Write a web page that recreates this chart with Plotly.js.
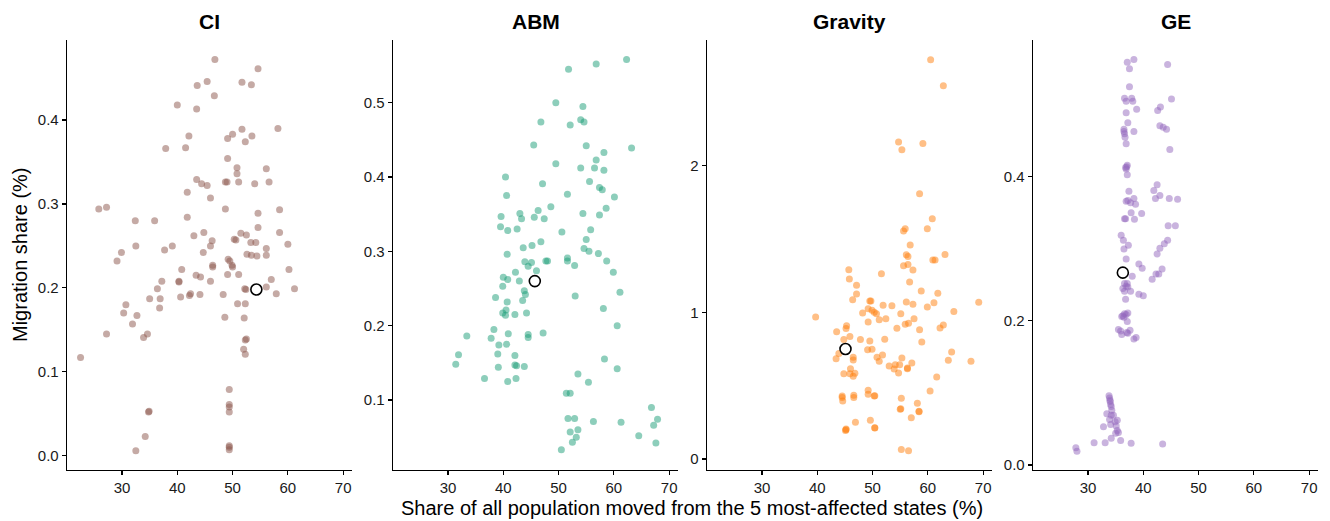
<!DOCTYPE html>
<html>
<head>
<meta charset="utf-8">
<script src="https://cdn.plot.ly/plotly-3.0.1.min.js"></script>
<style>html,body{margin:0;padding:0;background:#fff;}#chart{width:1330px;height:521px;}</style>
</head>
<body>
<div id="chart"></div>
<script>
// ---------- DATA ----------
const panelNames = ["CI", "ABM", "Gravity", "GE"];
const xTitle = "Share of all population moved from the 5 most-affected states (%)";
const yTitle = "Migration share (%)";

const ciX = [46.8,54.6,43.6,45.4,51.7,53.4,46.7,40.0,43.5,51.7,58.2,42.1,49.1,50.0,53.5,52.3,37.9,41.5,49.1,50.8,50.8,56.1,43.5,44.4,45.4,48.7,49.0,51.1,54.0,56.6,41.8,46.0,25.8,27.2,48.7,54.6,58.5,32.4,35.9,41.8,54.6,43.0,44.8,51.5,52.5,50.3,50.6,46.3,53.3,54.2,58.5,32.5,29.9,29.1,37.7,39.1,46.0,44.7,56.1,60.0,52.6,53.4,54.4,56.1,49.2,49.5,49.9,50.0,46.4,46.4,40.8,60.2,51.1,49.1,43.4,44.2,46.0,40.3,40.3,37.2,36.4,35.0,36.9,36.8,40.6,42.2,42.4,44.1,48.3,52.4,52.2,56.1,57.0,57.9,61.2,50.9,52.3,30.7,30.3,32.7,31.9,27.2,33.9,34.6,48.6,52.1,52.3,52.5,52.0,52.3,22.5,49.4,49.4,49.4,49.4,34.8,34.9,34.2,32.5,49.4,49.4,49.4];
const ciY = [0.472,0.461,0.441,0.446,0.445,0.442,0.429,0.418,0.413,0.389,0.390,0.381,0.378,0.383,0.381,0.374,0.366,0.367,0.354,0.343,0.336,0.342,0.329,0.324,0.322,0.326,0.326,0.326,0.324,0.326,0.314,0.307,0.294,0.296,0.294,0.289,0.293,0.280,0.280,0.284,0.272,0.262,0.266,0.265,0.263,0.258,0.257,0.256,0.254,0.254,0.266,0.250,0.242,0.232,0.245,0.250,0.250,0.242,0.247,0.252,0.240,0.239,0.238,0.239,0.234,0.232,0.227,0.225,0.225,0.227,0.222,0.222,0.216,0.216,0.215,0.213,0.208,0.207,0.208,0.208,0.199,0.187,0.187,0.176,0.189,0.191,0.193,0.192,0.192,0.198,0.199,0.201,0.210,0.193,0.199,0.181,0.181,0.180,0.170,0.167,0.157,0.145,0.141,0.145,0.165,0.164,0.138,0.139,0.127,0.121,0.117,0.079,0.061,0.058,0.052,0.052,0.053,0.023,0.006,0.012,0.010,0.007];

const abmX = [62.3,51.8,56.8,49.5,54.4,46.8,54.0,54.6,52.1,45.5,55.0,63.2,58.2,56.8,49.5,54.0,56.5,58.2,40.4,47.1,55.6,57.4,57.9,51.6,60.1,40.6,48.6,58.6,43.0,43.3,46.3,45.6,47.4,39.6,54.4,57.4,39.5,40.8,42.5,50.6,55.8,55.0,43.6,45.2,46.8,54.6,55.5,57.2,40.7,43.9,45.1,47.7,48.0,51.6,51.6,52.9,58.7,44.5,59.9,46.0,42.2,40.0,40.8,42.9,39.9,43.8,44.0,43.5,38.6,40.7,53.0,61.1,58.1,39.9,40.5,40.4,42.1,44.2,60.6,38.3,40.9,44.5,44.5,47.2,33.4,37.8,39.2,40.6,31.9,39.0,42.1,31.4,39.1,42.1,42.4,43.8,58.3,60.6,36.6,40.8,42.3,53.5,55.4,51.4,52.1,66.8,51.7,52.9,67.9,56.3,61.3,67.2,52.1,53.5,64.5,53.2,52.5,67.6,50.5];
const abmY = [0.558,0.545,0.552,0.500,0.495,0.474,0.477,0.474,0.470,0.443,0.442,0.439,0.433,0.423,0.418,0.412,0.412,0.409,0.400,0.391,0.394,0.386,0.383,0.377,0.373,0.375,0.360,0.358,0.351,0.344,0.355,0.346,0.344,0.347,0.351,0.349,0.333,0.328,0.330,0.326,0.329,0.316,0.305,0.308,0.313,0.304,0.300,0.297,0.296,0.286,0.285,0.287,0.287,0.291,0.287,0.281,0.287,0.280,0.272,0.274,0.272,0.265,0.262,0.260,0.253,0.247,0.242,0.234,0.238,0.232,0.240,0.245,0.223,0.217,0.221,0.214,0.215,0.217,0.200,0.195,0.189,0.188,0.184,0.190,0.186,0.183,0.174,0.175,0.161,0.162,0.160,0.148,0.144,0.147,0.146,0.145,0.155,0.142,0.129,0.125,0.129,0.135,0.124,0.109,0.109,0.090,0.075,0.075,0.074,0.071,0.070,0.066,0.057,0.060,0.052,0.050,0.043,0.042,0.033];

const gravX = [60.5,62.8,54.7,55.3,59.1,58.5,60.8,59.9,55.9,55.6,56.8,56.1,56.4,63.1,60.9,61.3,55.6,56.4,45.7,57.3,51.6,56.7,45.8,47.1,47.1,58.8,61.8,46.4,49.5,49.7,51.9,53.5,56.1,57.3,61.1,59.9,69.2,64.7,49.2,49.9,50.3,50.7,48.2,55.1,39.7,51.2,52.4,49.2,57.5,55.9,56.5,45.3,45.2,54.4,62.2,62.8,58.5,43.5,45.9,44.8,47.8,49.5,52.2,58.9,49.1,49.9,43.9,43.4,46.5,46.5,50.8,51.8,51.2,55.3,57.1,64.3,63.7,67.8,53.0,54.1,54.9,53.9,54.7,56.3,56.3,46.0,44.8,45.9,46.8,46.5,61.6,60.4,44.5,44.5,44.6,46.6,46.6,49.2,49.2,50.3,50.4,55.2,58.1,55.0,55.1,58.4,58.4,57.0,46.9,49.6,45.2,45.1,45.2,50.4,50.4,55.2,56.5];
const gravY = [2.723,2.545,2.161,2.109,2.152,1.809,1.639,1.570,1.570,1.555,1.459,1.393,1.380,1.395,1.357,1.357,1.318,1.327,1.290,1.289,1.264,1.207,1.227,1.184,1.125,1.145,1.130,1.086,1.077,1.077,1.048,1.045,1.070,1.055,1.066,1.036,1.068,1.005,1.025,1.014,1.000,0.991,0.995,0.991,0.968,0.950,0.957,0.934,0.957,0.918,0.925,0.909,0.889,0.891,0.893,0.914,0.882,0.868,0.836,0.814,0.814,0.805,0.816,0.798,0.745,0.748,0.720,0.684,0.693,0.675,0.693,0.709,0.666,0.689,0.655,0.730,0.673,0.666,0.634,0.643,0.643,0.614,0.586,0.616,0.620,0.616,0.582,0.582,0.584,0.564,0.559,0.464,0.430,0.420,0.395,0.434,0.420,0.468,0.441,0.430,0.432,0.414,0.380,0.339,0.343,0.323,0.325,0.282,0.250,0.264,0.205,0.195,0.200,0.211,0.213,0.064,0.057];

const geX = [37.1,38.3,37.5,44.4,37.5,36.6,36.9,37.9,38.1,38.8,45.1,42.6,43.1,36.9,37.2,43.0,43.6,44.2,36.5,36.5,36.6,36.7,38.3,36.9,44.8,37.0,36.9,37.1,36.8,37.1,42.5,41.9,42.2,43.0,44.7,46.2,37.4,36.9,38.3,38.6,37.7,37.2,37.8,39.7,36.6,36.8,38.4,44.5,45.8,36.0,36.4,44.4,43.8,43.0,42.5,37.3,36.5,36.9,39.2,39.8,43.4,38.0,41.6,42.3,42.8,36.6,37.1,36.9,36.3,37.2,36.6,37.7,36.8,39.2,40.0,36.3,36.6,36.9,37.2,36.5,36.1,37.1,35.5,35.9,36.1,37.0,37.2,37.6,38.3,38.7,33.8,33.9,34.0,34.1,34.2,34.0,34.3,33.4,34.2,34.6,35.3,34.9,33.9,34.1,32.8,35.1,35.3,35.5,35.0,34.2,35.9,31.1,33.1,37.8,43.5,27.8,28.0];
const geY = [0.559,0.563,0.550,0.556,0.525,0.509,0.505,0.509,0.505,0.494,0.508,0.492,0.497,0.489,0.475,0.471,0.469,0.466,0.466,0.463,0.460,0.455,0.463,0.446,0.438,0.414,0.411,0.416,0.413,0.403,0.389,0.381,0.370,0.374,0.370,0.369,0.380,0.366,0.370,0.362,0.364,0.367,0.350,0.349,0.342,0.342,0.341,0.332,0.332,0.319,0.312,0.312,0.307,0.301,0.293,0.305,0.300,0.286,0.279,0.273,0.272,0.262,0.258,0.265,0.265,0.252,0.252,0.248,0.245,0.247,0.241,0.241,0.230,0.237,0.235,0.207,0.210,0.209,0.211,0.205,0.206,0.199,0.188,0.186,0.181,0.184,0.183,0.187,0.175,0.177,0.096,0.093,0.088,0.084,0.081,0.090,0.076,0.071,0.069,0.069,0.062,0.060,0.063,0.056,0.053,0.054,0.048,0.045,0.044,0.037,0.034,0.031,0.031,0.030,0.029,0.024,0.019];

// observed / reference point per panel (open circle)
const refX = [54.3, 45.7, 45.1, 36.3];
const refY = [0.198, 0.260, 0.750, 0.267];

const yTickVals = [[0.0,0.1,0.2,0.3,0.4],[0.1,0.2,0.3,0.4,0.5],[0,1,2],[0.0,0.2,0.4]];
const yTickText = [["0.0","0.1","0.2","0.3","0.4"],["0.1","0.2","0.3","0.4","0.5"],["0","1","2"],["0.0","0.2","0.4"]];
const xTickVals = [30,40,50,60,70];

// ---------- STYLE / LAYOUT ----------
const colors = ["#8c564b", "#1b9e77", "#ff7f0e", "#9467bd"];
const W = 1330, H = 521;
const panelPx = [[67,352],[393,678],[707,992],[1033,1318]];
const plotTop = 40, plotBottom = 470;
const yRanges = [[-0.017,0.4953],[0.0058,0.5844],[-0.075,2.857],[-0.007,0.590]];
const xRange = [20.05, 71.6];
const font = "Liberation Sans, Arial, Helvetica, sans-serif";

const xs = [ciX, abmX, gravX, geX];
const ys = [ciY, abmY, gravY, geY];

const traces = [];
const layout = {
  width: W, height: H,
  margin: {l:0, r:0, t:0, b:0},
  paper_bgcolor: "#fff", plot_bgcolor: "#fff",
  showlegend: false,
  font: {family: font, size: 15, color: "#222"},
  annotations: []
};

for (let i = 0; i < 4; i++) {
  const sfx = i === 0 ? "" : String(i + 1);
  traces.push({
    type: "scatter", mode: "markers",
    x: xs[i], y: ys[i],
    xaxis: "x" + sfx, yaxis: "y" + sfx,
    marker: {size: 7, color: colors[i], opacity: 0.5, line: {width: 0}},
    hoverinfo: "x+y"
  });
  traces.push({
    type: "scatter", mode: "markers",
    x: [refX[i]], y: [refY[i]],
    xaxis: "x" + sfx, yaxis: "y" + sfx,
    marker: {size: 11, color: "#ffffff", symbol: "circle", line: {width: 1.6, color: "#000"}},
    hoverinfo: "x+y"
  });
  const axLine = {showline: true, linecolor: "#000", linewidth: 1.3, ticks: "outside",
    ticklen: 4, tickwidth: 1.2, tickcolor: "#000", showgrid: false, zeroline: false,
    tickfont: {family: font, size: 15, color: "#1a1a1a"}};
  layout["xaxis" + sfx] = Object.assign({}, axLine, {
    domain: [panelPx[i][0] / W, panelPx[i][1] / W],
    range: xRange, tickmode: "array", tickvals: xTickVals,
    ticktext: xTickVals.map(String),
    anchor: "y" + sfx
  });
  layout["yaxis" + sfx] = Object.assign({}, axLine, {
    domain: [(H - plotBottom) / H, (H - plotTop) / H],
    range: yRanges[i], tickmode: "array", tickvals: yTickVals[i], ticktext: yTickText[i],
    anchor: "x" + sfx
  });
  layout.annotations.push({
    text: "<b>" + panelNames[i] + "</b>", showarrow: false,
    xref: "paper", yref: "paper",
    x: (panelPx[i][0] + panelPx[i][1]) / 2 / W, y: (H - 22) / H,
    xanchor: "center", yanchor: "middle",
    font: {family: font, size: 21, color: "#000"}
  });
}
layout.annotations.push({
  text: yTitle, showarrow: false, textangle: -90,
  xref: "paper", yref: "paper", x: 20 / W, y: (H - 255) / H,
  xanchor: "center", yanchor: "middle",
  font: {family: font, size: 20, color: "#000"}
});
layout.annotations.push({
  text: xTitle, showarrow: false,
  xref: "paper", yref: "paper", x: 692 / W, y: (H - 508) / H,
  xanchor: "center", yanchor: "middle",
  font: {family: font, size: 20, color: "#000"}
});

Plotly.newPlot("chart", traces, layout, {staticPlot: true, displayModeBar: false});
</script>
</body>
</html>
